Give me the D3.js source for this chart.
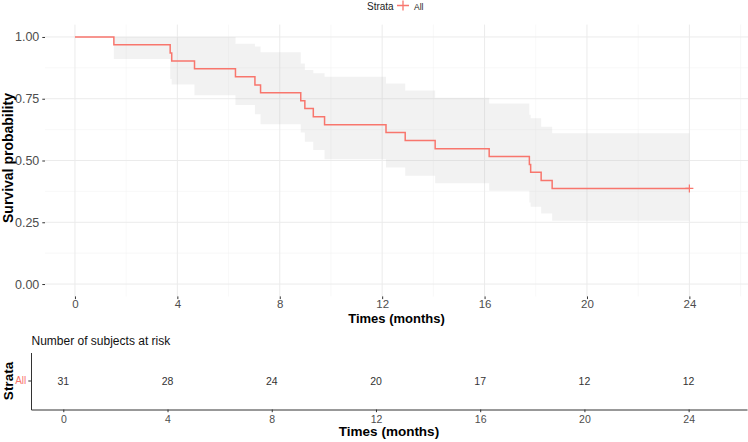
<!DOCTYPE html>
<html><head><meta charset="utf-8">
<script src="https://cdn.jsdelivr.net/npm/d3@7"></script>
<style>
html,body{margin:0;padding:0;background:#fff;}
svg{display:block;font-family:"Liberation Sans",Arial,sans-serif;}
</style></head>
<body>
<svg id="chart" width="748" height="442"></svg>
<script>
// ---- data ----
const times  = [0, 1.52, 3.72, 3.78, 4.67, 6.27, 7.03, 7.25, 8.82, 8.98, 9.31, 9.75, 12.15, 12.9, 14.07, 16.18, 17.75, 17.8, 18.21, 18.64, 24];
const surv   = [1, 0.968, 0.935, 0.903, 0.871, 0.839, 0.806, 0.774, 0.742, 0.710, 0.677, 0.645, 0.613, 0.581, 0.548, 0.516, 0.484, 0.452, 0.419, 0.387, 0.387];
const upper  = [1, 1, 1, 1, 1, 0.972, 0.961, 0.938, 0.893, 0.866, 0.853, 0.839, 0.812, 0.783, 0.754, 0.731, 0.685, 0.671, 0.637, 0.610, 0.610];
const lower  = [1, 0.911, 0.83, 0.808, 0.764, 0.725, 0.687, 0.647, 0.613, 0.576, 0.543, 0.505, 0.472, 0.438, 0.408, 0.378, 0.33, 0.313, 0.286, 0.256, 0.256];
const censorTimes = [24];
const censorSurv  = [0.387];
const xTicks = [0, 4, 8, 12, 16, 20, 24];
const yTicks = [0, 0.25, 0.5, 0.75, 1];
const riskTimes  = [0, 4, 8, 12, 16, 20, 24];
const riskCounts = [31, 28, 24, 20, 17, 12, 12];
const strata = ["All"];

const red = "#F8766D";
const svg = d3.select("#chart");

// ---- main plot ----
const x = d3.scaleLinear().domain([-1.17, 26.29]).range([45, 748]);
const y = d3.scaleLinear().domain([-0.05, 1.05]).range([296.4, 24.6]);

const grid = svg.append("g");
const minorX = d3.range(0, 27, 2).filter(v => v % 4 !== 0);
const minorY = [0.125, 0.375, 0.625, 0.875];
grid.selectAll(".mx").data(minorX).join("line")
  .attr("x1", d => x(d)).attr("x2", d => x(d)).attr("y1", y.range()[0]).attr("y2", y.range()[1])
  .attr("stroke", "#f3f3f3").attr("stroke-width", 0.6);
grid.selectAll(".my").data(minorY).join("line")
  .attr("x1", x.range()[0]).attr("x2", x.range()[1]).attr("y1", d => y(d)).attr("y2", d => y(d))
  .attr("stroke", "#f3f3f3").attr("stroke-width", 0.6);
grid.selectAll(".Mx").data(xTicks).join("line")
  .attr("x1", d => x(d)).attr("x2", d => x(d)).attr("y1", y.range()[0]).attr("y2", y.range()[1])
  .attr("stroke", "#ebebeb").attr("stroke-width", 1);
grid.selectAll(".My").data(yTicks).join("line")
  .attr("x1", x.range()[0]).attr("x2", x.range()[1]).attr("y1", d => y(d)).attr("y2", d => y(d))
  .attr("stroke", "#ebebeb").attr("stroke-width", 1);

const pts = times.map((t, i) => ({t, s: surv[i], lo: lower[i], up: upper[i]}));

svg.append("path").datum(pts)
  .attr("d", d3.area().curve(d3.curveStepAfter).x(d => x(d.t)).y0(d => y(d.lo)).y1(d => y(d.up)))
  .attr("fill", "#bdbdbd").attr("fill-opacity", 0.2);

svg.append("path").datum(pts)
  .attr("d", d3.line().curve(d3.curveStepAfter).x(d => x(d.t)).y(d => y(d.s)))
  .attr("fill", "none").attr("stroke", red).attr("stroke-width", 1.5);

censorTimes.forEach((t, i) => {
  const cx = x(t), cy = y(censorSurv[i]);
  svg.append("path").attr("d", `M${cx-4},${cy}H${cx+4}M${cx},${cy-4}V${cy+4}`)
    .attr("stroke", red).attr("stroke-width", 1.2).attr("fill", "none");
});

// axes (ggplot-like: no axis line, small ticks)
const xAxis = svg.append("g").attr("transform", `translate(0,${y.range()[0]})`)
  .call(d3.axisBottom(x).tickValues(xTicks).tickSize(2.7).tickPadding(1).tickFormat(d3.format("d")));
xAxis.select(".domain").remove();
xAxis.selectAll("line").attr("stroke", "#333");
xAxis.selectAll("text").attr("fill", "#4d4d4d").style("font-size", "11.5px").style("font-family", "Liberation Sans, Arial, sans-serif");

const yAxis = svg.append("g").attr("transform", `translate(${x.range()[0]},0)`)
  .call(d3.axisLeft(y).tickValues(yTicks).tickSize(2.7).tickPadding(3).tickFormat(d3.format(".2f")));
yAxis.select(".domain").remove();
yAxis.selectAll("line").attr("stroke", "#333");
yAxis.selectAll("text").attr("fill", "#4d4d4d").style("font-size", "12.5px").style("font-family", "Liberation Sans, Arial, sans-serif");

svg.append("text").attr("x", (x.range()[0] + x.range()[1]) / 2).attr("y", 322.5)
  .attr("text-anchor", "middle").style("font-size", "13px").style("font-weight", "bold").text("Times (months)");
svg.append("text").attr("transform", `translate(13,158) rotate(-90)`)
  .attr("text-anchor", "middle").style("font-size", "14px").style("font-weight", "bold").text("Survival probability");

// legend
const lg = svg.append("g");
lg.append("text").attr("x", 367).attr("y", 9.5).style("font-size", "10px").attr("fill", "#222").text("Strata");
lg.append("path").attr("d", "M397,5.5H409M403,0.5V10.5").attr("stroke", red).attr("stroke-width", 1.3);
lg.append("text").attr("x", 414).attr("y", 9.5).style("font-size", "8.5px").attr("fill", "#222").text(strata[0]);

// ---- risk table ----
const xr = d3.scaleLinear().domain([-1.24, 26.24]).range([31, 747]);
const yr = d3.scaleBand().domain(strata).range([352.5, 409.5]);

svg.append("text").attr("x", 31.5).attr("y", 345).style("font-size", "12px").attr("fill", "#111")
  .text("Number of subjects at risk");

svg.selectAll(".risk").data(riskTimes).join("text")
  .attr("x", d => xr(d)).attr("y", yr("All") + yr.bandwidth() / 2 + 4)
  .attr("text-anchor", "middle").style("font-size", "10.5px").attr("fill", "#333")
  .text((d, i) => riskCounts[i]);

const xrAxis = svg.append("g").attr("transform", `translate(0,409.5)`)
  .call(d3.axisBottom(xr).tickValues(riskTimes).tickSize(2.7).tickPadding(3).tickSizeOuter(0).tickFormat(d3.format("d")));
xrAxis.select(".domain").attr("stroke", "#333").attr("stroke-width", 1);
xrAxis.selectAll("line").attr("stroke", "#333");
xrAxis.selectAll("text").attr("fill", "#4d4d4d").style("font-size", "10.5px").style("font-family", "Liberation Sans, Arial, sans-serif");

const yrAxis = svg.append("g").attr("transform", `translate(31,0)`)
  .call(d3.axisLeft(yr).tickSize(2.7).tickPadding(2).tickSizeOuter(0));
yrAxis.select(".domain").attr("stroke", "#333").attr("stroke-width", 1);
yrAxis.selectAll("line").attr("stroke", "#333");
yrAxis.selectAll("text").attr("fill", red).style("font-size", "10px").style("font-family", "Liberation Sans, Arial, sans-serif");

svg.append("text").attr("x", xr.range()[0] / 2 + xr.range()[1] / 2).attr("y", 436)
  .attr("text-anchor", "middle").style("font-size", "13.5px").style("font-weight", "bold").text("Times (months)");
svg.append("text").attr("transform", `translate(13,381) rotate(-90)`)
  .attr("text-anchor", "middle").style("font-size", "13.5px").style("font-weight", "bold").text("Strata");
</script>
</body></html>
